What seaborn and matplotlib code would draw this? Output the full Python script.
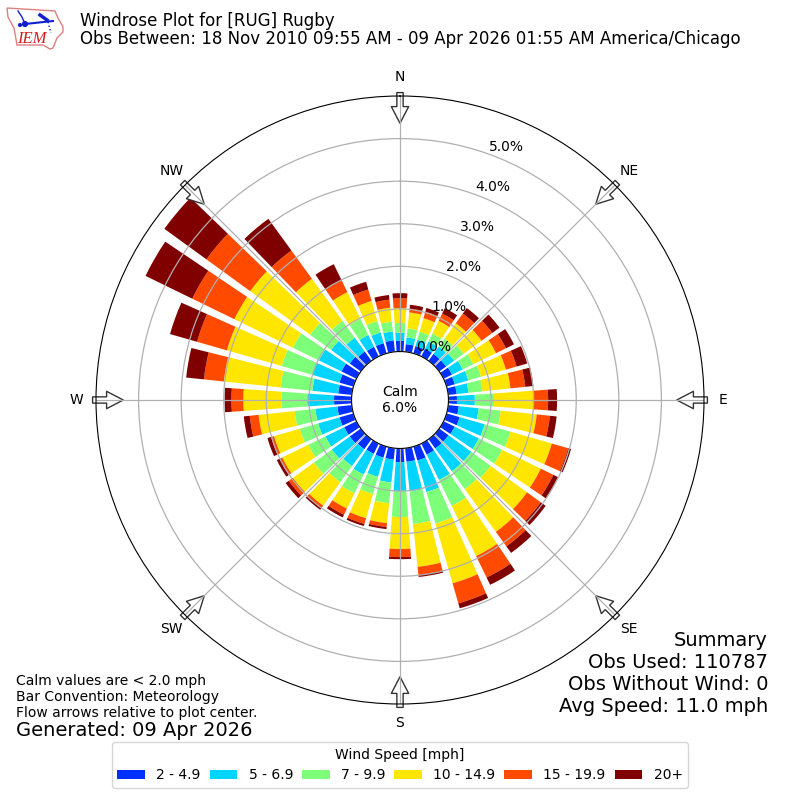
import numpy as np
import pandas as pd
import seaborn as sns
import matplotlib
matplotlib.use("Agg")
import matplotlib.pyplot as plt
from matplotlib.patches import Patch

directions = list(range(0, 360, 10))
speed_labels = ["2 - 4.9", "5 - 6.9", "7 - 9.9", "10 - 14.9", "15 - 19.9", "20+"]
speed_colors = ["#0030ff", "#00d4ff", "#7dff7a", "#ffe600", "#ff4a00", "#800000"]

s2_5 = [.25,.18,.18,.20,.20,.20,.22,.20,.20,.20,.25,.32,.29,.27,.27,.29,.34,.32,
        .32,.27,.27,.27,.29,.32,.32,.34,.34,.41,.32,.34,.39,.32,.27,.25,.25,.27]
s5_7 = [.19,.16,.16,.19,.21,.23,.28,.33,.28,.42,.47,.61,.63,.66,.66,.66,.77,.70,
        .68,.54,.47,.54,.49,.52,.49,.52,.52,.63,.61,.66,.59,.54,.40,.31,.26,.21]
s7_10 = [.23,.21,.19,.21,.23,.28,.28,.31,.33,.45,.52,.63,.61,.56,.52,.68,.77,.77,
         .61,.49,.42,.49,.47,.52,.45,.45,.49,.61,.75,.75,.68,.61,.49,.42,.28,.23]
s10_15 = [.35,.38,.33,.33,.45,.52,.59,.61,.66,.94,.85,1.01,1.01,1.06,1.24,1.31,1.46,1.01,
          .75,.47,.59,.40,.68,.61,.68,.63,.85,.89,1.34,1.34,1.53,1.74,1.22,.70,.49,.33]
s15_20 = [.23,.09,.16,.19,.28,.31,.26,.26,.35,.33,.31,.40,.33,.40,.42,.56,.49,.19,
          .19,.09,.14,.16,.07,.12,.07,.07,.21,.28,.47,.73,1.10,1.27,.82,.31,.28,.19]
s20_up = [.12,.09,.09,.14,.16,.21,.21,.26,.19,.21,.16,.07,.12,.14,.19,.19,.12,.05,
          .05,.05,.05,.07,.05,.09,.07,.09,.14,.16,.42,.66,1.22,1.22,.92,.42,.19,.11]
series = [s2_5, s5_7, s7_10, s10_15, s15_20, s20_up]

radial_ticks = [0, 1, 2, 3, 4, 5]
compass = ["N", "NE", "E", "SE", "S", "SW", "W", "NW"]
compass_deg = [0, 45, 90, 135, 180, 225, 270, 315]

palette = sns.color_palette(speed_colors)
df = pd.DataFrame(dict(zip(speed_labels, series)), index=directions)

fig = plt.figure(figsize=(8, 8), dpi=100)
ax = fig.add_axes([96 / 800, 96 / 800, 608 / 800, 608 / 800], projection="polar")
ax.set_theta_zero_location("N")
ax.set_theta_direction(-1)

theta = np.deg2rad(df.index.to_numpy())
base = np.zeros(len(df))
for label, color in zip(speed_labels, palette):
    ax.bar(theta, df[label].to_numpy(), width=np.deg2rad(8), bottom=base,
           color=color, linewidth=0, zorder=1)
    base = base + df[label].to_numpy()

ax.set_rorigin(-1.138)
ax.set_ylim(0, 6)
ax.set_rticks(radial_ticks)
ax.set_yticklabels([f"{v:.1f}%" for v in radial_ticks])
ax.set_rlabel_position(20)
ax.set_thetagrids(compass_deg, compass)
ax.grid(True, color="#b0b0b0", linewidth=0.9)

for deg in compass_deg:
    t = np.deg2rad(deg)
    ax.annotate("", xy=(t, 5.36), xytext=(t, 6.08), xycoords="data", textcoords="data",
                annotation_clip=False, zorder=1.2,
                arrowprops=dict(facecolor="white", edgecolor="#333333", linewidth=1,
                                width=4.5, headwidth=12.5, headlength=12, shrink=0))

fig.text(400 / 800, 1 - 400 / 800, "Calm\n6.0%", ha="center", va="center", fontsize=10)

fig.text(80 / 800, 1 - 30 / 800, "Windrose Plot for [RUG] Rugby\nObs Between: 18 Nov 2010 09:55 AM - 09 Apr 2026 01:55 AM America/Chicago",
         fontsize=12, ha="left", va="center", linespacing=0.95)

fig.text(16 / 800, 1 - 697 / 800,
         "Calm values are < 2.0 mph\nBar Convention: Meteorology\nFlow arrows relative to plot center.",
         fontsize=10, ha="left", va="center")
fig.text(16 / 800, 1 - 730 / 800, "Generated: 09 Apr 2026", fontsize=14, ha="left", va="center")
fig.text(768 / 800, 1 - 674 / 800, "Summary\nObs Used: 110787\nObs Without Wind: 0\nAvg Speed: 11.0 mph",
         fontsize=14, ha="right", va="center")

handles = [Patch(facecolor=c, label=l) for c, l in zip(palette, speed_labels)]
fig.legend(handles=handles, title="Wind Speed [mph]", ncols=6, fontsize=10, title_fontsize=10,
           loc="center", bbox_to_anchor=(400 / 800, 1 - 765 / 800), columnspacing=0.65)

# IEM logo
logo = fig.add_axes([0, 1 - 60 / 800, 130 / 800, 60 / 800])
logo.set_xlim(0, 130)
logo.set_ylim(60, 0)
logo.axis("off")
outline_x = [7, 55, 58, 63, 63, 57, 53, 50, 43, 17, 14, 8, 7]
outline_y = [8, 11, 18, 27, 32, 38, 48, 49, 45, 45, 28, 17, 8]
logo.fill(outline_x, outline_y, facecolor="white", edgecolor="#e08080", linewidth=1)
logo.plot([25, 53], [24, 21], color="#1020d0", linewidth=1.5)
logo.plot([18, 22, 25], [11, 17, 24], color="#1020d0", linewidth=1)
logo.plot([40, 47], [15, 20], color="#1020d0", linewidth=2.5)
logo.plot([48, 51], [22, 33], color="#1020d0", linewidth=1, linestyle=":")
logo.scatter([25, 20], [24, 25], s=[12, 4], color="#1020d0")
logo.text(17, 43, "IEM", color="#d02020", fontsize=12, family="Liberation Serif", style="italic", ha="left", va="baseline")

fig.savefig("out.png", dpi=100)
